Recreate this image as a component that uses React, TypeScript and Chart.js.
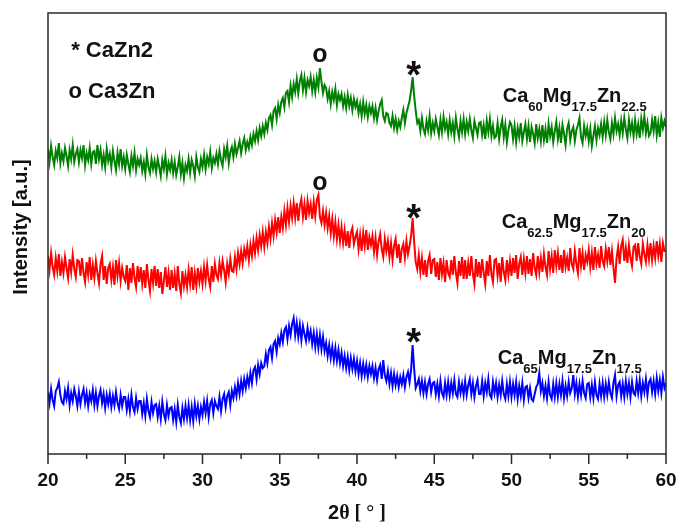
import { useEffect, useRef } from 'react';
import { Chart, registerables } from 'chart.js';

Chart.register(...registerables);

// 2θ sampling grid (degrees), 0.1° step from 20 to 60
const thetaStart = 20;
const thetaStep = 0.1;
const thetaCount = 401;
const twoTheta: number[] = Array.from({ length: thetaCount }, (_, i) => +(thetaStart + i * thetaStep).toFixed(1));

const xTickValues = [20, 25, 30, 35, 40, 45, 50, 55, 60];
const xMinorTicks = [22.5, 27.5, 32.5, 37.5, 42.5, 47.5, 52.5, 57.5];

// Intensity (a.u., offset stacked); one row per degree
const ca60: number[] = [
  305, 292, 308, 297, 289, 303, 296, 311, 291, 301,
  293, 306, 298, 288, 304, 295, 309, 292, 300, 305,
  292, 304, 296, 309, 289, 301, 294, 306, 290, 302,
  303, 290, 309, 295, 304, 289, 299, 287, 305, 293,
  300, 287, 303, 293, 284, 301, 290, 305, 288, 297,
  285, 299, 290, 282, 298, 288, 301, 284, 295, 289,
  296, 283, 292, 280, 299, 287, 281, 295, 285, 293,
  282, 295, 287, 278, 294, 285, 298, 280, 291, 284,
  294, 281, 292, 279, 287, 297, 280, 291, 276, 289,
  283, 295, 281, 294, 288, 278, 297, 287, 282, 295,
  287, 299, 285, 297, 290, 302, 286, 296, 291, 300,
  290, 303, 294, 288, 305, 297, 308, 291, 302, 307,
  297, 310, 300, 306, 313, 301, 310, 316, 304, 312,
  306, 317, 309, 320, 313, 323, 314, 326, 318, 328,
  320, 331, 324, 336, 339, 329, 343, 346, 335, 349,
  341, 352, 356, 347, 361, 363, 352, 368, 357, 370,
  362, 375, 361, 373, 379, 364, 376, 362, 374, 368,
  377, 363, 374, 362, 376, 367, 386, 372, 361, 369,
  366, 355, 363, 350, 362, 354, 365, 349, 360, 354,
  360, 348, 357, 346, 359, 348, 356, 344, 355, 347,
  353, 341, 350, 338, 352, 340, 349, 337, 348, 341,
  348, 336, 346, 334, 343, 350, 354, 338, 333, 341,
  340, 331, 328, 338, 326, 335, 324, 333, 327, 336,
  344, 331, 341, 347, 353, 363, 377, 358, 343, 331,
  334, 323, 336, 325, 320, 333, 324, 338, 321, 331,
  323, 335, 327, 319, 334, 322, 337, 325, 332, 320,
  334, 322, 331, 318, 336, 325, 317, 333, 322, 335,
  320, 332, 323, 335, 324, 316, 333, 326, 319, 331,
  332, 319, 329, 315, 333, 322, 335, 318, 328, 316,
  318, 331, 315, 327, 334, 317, 329, 312, 324, 332,
  329, 315, 328, 312, 326, 317, 331, 313, 322, 330,
  315, 328, 312, 327, 320, 311, 330, 316, 325, 313,
  329, 314, 325, 311, 330, 318, 327, 312, 323, 332,
  315, 326, 311, 329, 320, 309, 325, 331, 314, 323,
  327, 313, 324, 329, 336, 317, 311, 328, 318, 326,
  313, 325, 308, 318, 328, 314, 326, 319, 330, 317,
  332, 319, 334, 322, 315, 331, 320, 336, 323, 330,
  319, 333, 321, 336, 325, 316, 334, 322, 331, 318,
  334, 320, 330, 316, 335, 324, 338, 321, 331, 318,
  321, 334, 323, 338, 319, 331, 317, 336, 326, 333,
  327,
];

const ca625: number[] = [
  198, 184, 201, 187, 179, 196, 183, 200, 178, 192,
  181, 197, 186, 176, 195, 182, 199, 185, 177, 194,
  193, 178, 196, 181, 172, 192, 179, 197, 174, 189,
  176, 193, 181, 171, 190, 198, 174, 188, 170, 186,
  190, 174, 187, 169, 194, 178, 191, 173, 186, 177,
  173, 189, 164, 186, 171, 191, 176, 167, 188, 172,
  187, 170, 184, 166, 190, 174, 163, 185, 171, 188,
  168, 185, 166, 182, 160, 173, 187, 167, 181, 164,
  184, 166, 180, 163, 188, 170, 161, 183, 168, 179,
  167, 184, 170, 187, 164, 181, 168, 186, 172, 183,
  170, 187, 173, 189, 175, 167, 188, 172, 190, 179,
  175, 191, 179, 193, 184, 172, 190, 180, 195, 183,
  182, 197, 185, 201, 190, 203, 191, 205, 197, 208,
  194, 209, 198, 213, 201, 216, 204, 219, 208, 222,
  207, 222, 211, 227, 215, 231, 218, 234, 222, 237,
  221, 237, 226, 243, 229, 246, 232, 248, 236, 251,
  236, 251, 233, 248, 255, 237, 250, 234, 253, 241,
  250, 235, 252, 238, 254, 259, 237, 231, 243, 229,
  241, 226, 238, 221, 235, 218, 232, 215, 229, 213,
  227, 211, 224, 208, 223, 206, 221, 226, 210, 217,
  222, 205, 219, 203, 221, 208, 224, 204, 217, 209,
  218, 202, 216, 199, 213, 220, 205, 197, 215, 203,
  213, 197, 211, 194, 208, 215, 196, 210, 191, 205,
  210, 196, 213, 200, 208, 218, 236, 212, 192, 185,
  199, 182, 196, 179, 194, 177, 193, 199, 180, 194,
  195, 177, 192, 174, 196, 180, 191, 172, 194, 181,
  177, 194, 179, 198, 181, 171, 193, 178, 197, 175,
  194, 175, 191, 178, 198, 180, 170, 195, 177, 192,
  176, 195, 181, 170, 193, 178, 199, 180, 172, 194,
  195, 178, 191, 172, 197, 182, 174, 194, 179, 193,
  178, 196, 181, 199, 175, 190, 197, 179, 195, 181,
  198, 180, 195, 178, 201, 186, 179, 198, 182, 196,
  182, 200, 187, 179, 203, 185, 198, 181, 204, 188,
  201, 184, 199, 181, 204, 187, 196, 183, 206, 190,
  185, 203, 190, 181, 206, 188, 201, 184, 199, 192,
  204, 187, 201, 184, 207, 190, 199, 186, 208, 193,
  188, 205, 193, 207, 189, 203, 186, 171, 196, 207,
  190, 208, 214, 193, 206, 191, 209, 196, 188, 207,
  209, 193, 211, 197, 190, 210, 200, 192, 209, 195,
  211, 194, 208, 196, 213, 198, 210, 192, 211, 203,
  203,
];

const ca65: number[] = [
  62, 51, 65, 54, 48, 63, 66, 72, 59, 52,
  50, 63, 55, 66, 49, 61, 53, 65, 58, 48,
  62, 50, 59, 65, 51, 61, 48, 60, 53, 64,
  49, 61, 48, 58, 64, 51, 60, 46, 59, 50,
  60, 47, 58, 49, 62, 51, 45, 59, 48, 57,
  57, 44, 55, 43, 59, 47, 42, 56, 45, 53,
  53, 40, 51, 38, 55, 43, 37, 52, 41, 49,
  50, 37, 48, 35, 52, 40, 34, 49, 38, 46,
  47, 34, 45, 32, 49, 37, 31, 46, 35, 48,
  36, 49, 34, 47, 33, 50, 38, 48, 35, 47,
  39, 52, 41, 53, 37, 50, 54, 41, 53, 48,
  45, 57, 43, 55, 60, 47, 58, 62, 49, 63,
  56, 67, 58, 71, 60, 73, 63, 75, 66, 77,
  69, 81, 71, 84, 87, 75, 89, 80, 91, 86,
  88, 100, 91, 104, 107, 96, 110, 113, 102, 116,
  110, 121, 112, 124, 127, 115, 128, 119, 130, 136,
  119, 131, 117, 129, 114, 128, 120, 113, 126, 115,
  123, 110, 121, 107, 120, 106, 119, 105, 117, 103,
  111, 98, 109, 96, 107, 94, 106, 93, 104, 91,
  101, 88, 98, 86, 97, 84, 96, 85, 95, 83,
  93, 80, 91, 78, 90, 79, 89, 77, 88, 80,
  88, 76, 86, 74, 85, 89, 75, 94, 79, 73,
  83, 70, 81, 68, 80, 69, 78, 67, 77, 70,
  79, 67, 77, 82, 72, 84, 109, 85, 66, 70,
  75, 63, 73, 61, 72, 60, 70, 75, 62, 71,
  72, 60, 70, 58, 73, 61, 57, 71, 59, 72,
  59, 71, 61, 74, 60, 57, 72, 61, 70, 59,
  73, 59, 69, 75, 60, 71, 57, 68, 74, 60,
  60, 73, 58, 71, 62, 75, 59, 56, 72, 61,
  71, 57, 69, 59, 73, 60, 55, 70, 58, 72,
  57, 70, 59, 72, 55, 68, 58, 71, 54, 67,
  68, 56, 66, 55, 53, 60, 67, 70, 81, 63,
  71, 58, 68, 56, 72, 59, 55, 70, 57, 71,
  57, 70, 59, 73, 56, 68, 58, 72, 61, 66,
  79, 60, 71, 57, 70, 59, 73, 61, 56, 70,
  71, 57, 69, 56, 72, 59, 55, 70, 58, 71,
  57, 70, 59, 72, 61, 56, 71, 79, 58, 69,
  72, 58, 70, 57, 73, 60, 71, 57, 72, 61,
  59, 73, 61, 74, 58, 71, 62, 75, 59, 72,
  75, 62, 73, 60, 76, 63, 74, 61, 77, 66,
  71,
];

const seriesNames = ['Ca60Mg17.5Zn22.5', 'Ca62.5Mg17.5Zn20', 'Ca65Mg17.5Zn17.5'];
const seriesColors = ['#008000', '#ff0000', '#0000ff'];

// Sample labels: [main, subscript] pairs
const labelGreen = [['Ca', '60'], ['Mg', '17.5'], ['Zn', '22.5']];
const labelRed = [['Ca', '62.5'], ['Mg', '17.5'], ['Zn', '20']];
const labelBlue = [['Ca', '65'], ['Mg', '17.5'], ['Zn', '17.5']];

const legendLines = ['* CaZn2', 'o Ca3Zn'];
const xTitleMain = '2';
const xTitleRest = 'θ [ ° ]';
const yTitle = 'Intensity [a.u.]';

const SANS = 'Arial, "Liberation Sans", sans-serif';
const SERIF = '"Liberation Serif", "Times New Roman", serif';

const annotationPlugin = {
  id: 'xrdAnnotations',
  afterDraw(chart: any) {
    const { ctx, chartArea, scales } = chart;
    const xs = scales.x;
    const ys = scales.y;
    const px = (v: number) => xs.getPixelForValue(v);
    const py = (v: number) => ys.getPixelForValue(v);
    ctx.save();

    // frame
    ctx.strokeStyle = '#2a2a2a';
    ctx.lineWidth = 1.5;
    ctx.strokeRect(chartArea.left, chartArea.top, chartArea.right - chartArea.left, chartArea.bottom - chartArea.top);

    // ticks (major + minor, outside)
    ctx.beginPath();
    xTickValues.forEach((v) => {
      const x = px(v);
      ctx.moveTo(x, chartArea.bottom);
      ctx.lineTo(x, chartArea.bottom + 10);
    });
    xMinorTicks.forEach((v) => {
      const x = px(v);
      ctx.moveTo(x, chartArea.bottom);
      ctx.lineTo(x, chartArea.bottom + 5);
    });
    ctx.stroke();

    ctx.fillStyle = '#111';
    ctx.textBaseline = 'alphabetic';

    // legend text
    ctx.textAlign = 'left';
    ctx.font = `bold 22px ${SANS}`;
    ctx.fillText(legendLines[0], px(21.5), py(397));
    ctx.fillText(legendLines[1], px(21.33), py(356));

    // phase markers
    ctx.textAlign = 'center';
    ctx.font = `bold 25px ${SANS}`;
    ctx.fillText('o', px(37.6), py(392));
    ctx.fillText('o', px(37.6), py(264));
    ctx.font = `bold 38px ${SANS}`;
    ctx.fillText('*', px(43.67), py(366));
    ctx.fillText('*', px(43.67), py(223));
    ctx.fillText('*', px(43.67), py(99));

    // sample labels with subscripts
    const drawLabel = (parts: string[][], xv: number, yv: number) => {
      let x = px(xv);
      const y = py(yv);
      ctx.textAlign = 'left';
      parts.forEach(([main, sub]) => {
        ctx.font = `bold 20px ${SANS}`;
        ctx.fillText(main, x, y);
        x += ctx.measureText(main).width;
        ctx.font = `bold 13px ${SANS}`;
        ctx.fillText(sub, x, y + 9);
        x += ctx.measureText(sub).width;
      });
    };
    drawLabel(labelGreen, 49.43, 352);
    drawLabel(labelRed, 49.37, 226);
    drawLabel(labelBlue, 49.11, 90);

    // x title
    ctx.textAlign = 'left';
    ctx.font = `bold 20px ${SANS}`;
    const w2 = ctx.measureText(xTitleMain).width;
    ctx.font = `bold 20px ${SERIF}`;
    const wr = ctx.measureText(xTitleRest).width;
    const cx = (chartArea.left + chartArea.right) / 2;
    let tx = cx - (w2 + wr) / 2;
    ctx.font = `bold 20px ${SANS}`;
    ctx.fillText(xTitleMain, tx, 519);
    tx += w2;
    ctx.font = `bold 20px ${SERIF}`;
    ctx.fillText(xTitleRest, tx, 519);

    // y title
    ctx.translate(21, 227);
    ctx.rotate(-Math.PI / 2);
    ctx.textAlign = 'center';
    ctx.textBaseline = 'middle';
    ctx.font = `bold 20px ${SANS}`;
    ctx.fillText(yTitle, 0, 0);

    ctx.restore();
  },
};

export default function App() {
  const canvasRef = useRef<HTMLCanvasElement | null>(null);

  useEffect(() => {
    document.body.style.margin = '0';
    const canvas = canvasRef.current;
    if (!canvas) return;
    const mk = (vals: number[]) => vals.map((v, i) => ({ x: twoTheta[i], y: v }));
    const chart = new Chart(canvas, {
      type: 'line',
      data: {
        datasets: [ca60, ca625, ca65].map((vals, k) => ({
          label: seriesNames[k],
          data: mk(vals),
          borderColor: seriesColors[k],
          backgroundColor: seriesColors[k],
          borderWidth: 2,
          pointRadius: 0,
          tension: 0,
          fill: false,
        })),
      },
      options: {
        responsive: false,
        animation: false,
        events: [],
        layout: { padding: { top: 13, right: 12, left: 0, bottom: 0 } },
        plugins: { legend: { display: false }, tooltip: { enabled: false } },
        scales: {
          x: {
            type: 'linear',
            min: 20,
            max: 60,
            afterBuildTicks: (s: any) => {
              s.ticks = xTickValues.map((v) => ({ value: v }));
            },
            ticks: {
              autoSkip: false,
              maxRotation: 0,
              padding: 5,
              color: '#111',
              font: { family: SANS, weight: 'bold', size: 19 },
            },
            grid: { display: true, drawOnChartArea: false, drawTicks: true, tickLength: 10, color: 'rgba(0,0,0,0)' },
            border: { display: false },
            afterFit: (s: any) => {
              s.height = 68;
              s.paddingLeft = 0;
              s.paddingRight = 0;
            },
          },
          y: {
            min: 0,
            max: 441,
            ticks: { display: false },
            grid: { display: false },
            border: { display: false },
            afterFit: (s: any) => {
              s.width = 48;
            },
          },
        },
      },
      plugins: [annotationPlugin],
    } as any);
    return () => chart.destroy();
  }, []);

  return (
    <div style={{ width: 678, height: 522, background: '#fff' }}>
      <canvas ref={canvasRef} width={678} height={522} style={{ display: 'block' }} />
    </div>
  );
}
